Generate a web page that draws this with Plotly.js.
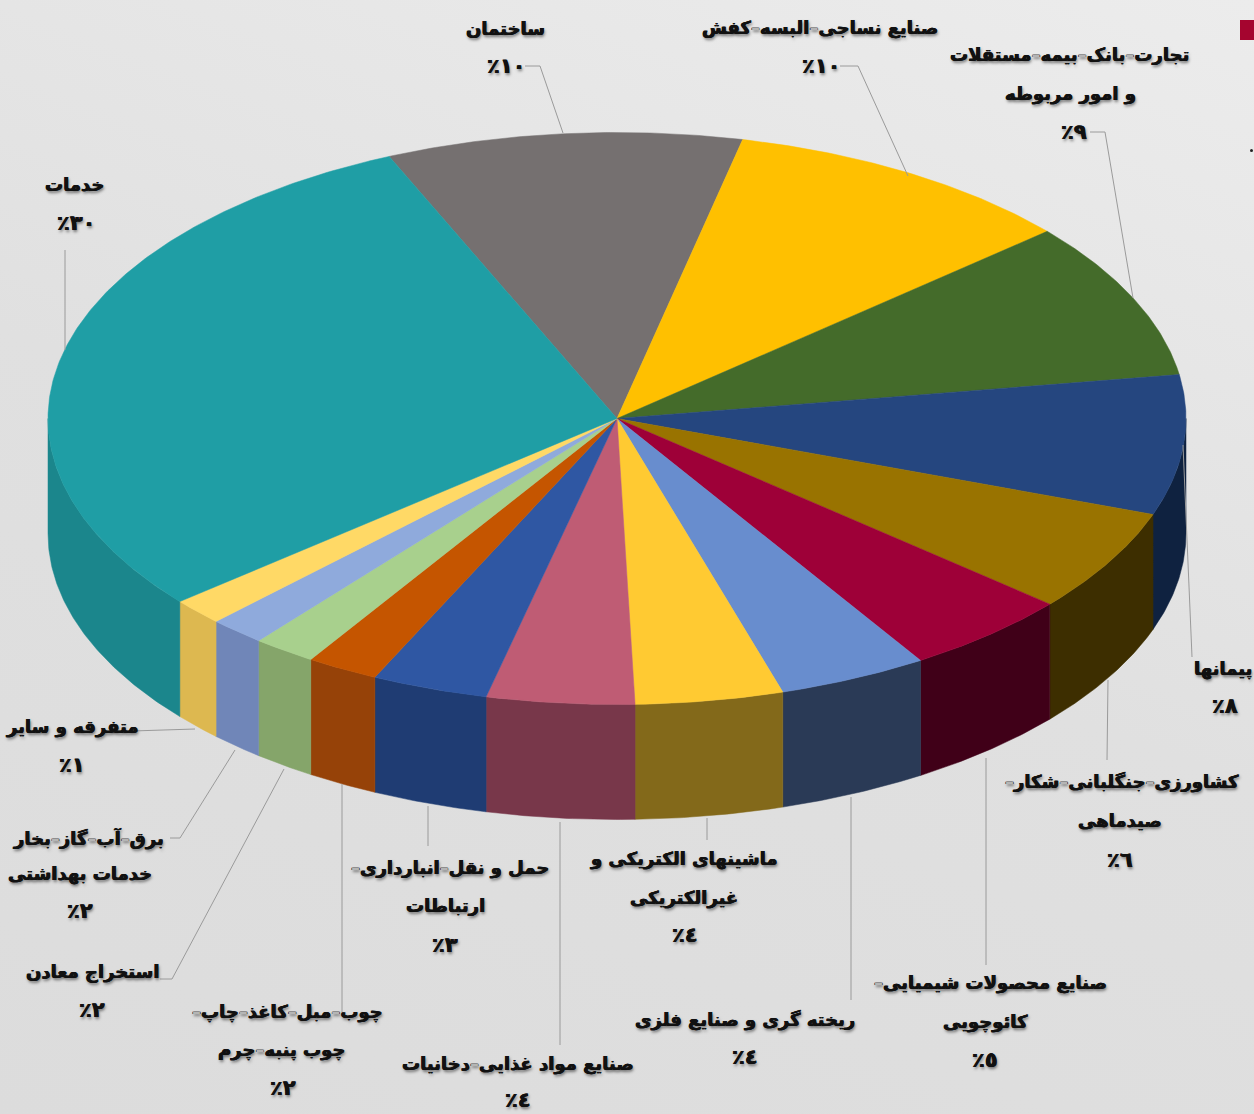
<!DOCTYPE html>
<html><head><meta charset="utf-8">
<script src="https://cdn.plot.ly/plotly-3.0.1.min.js"></script>
<style>html,body{margin:0;padding:0;width:1254px;height:1114px;overflow:hidden;background:linear-gradient(200deg,#ececec 0%,#e0e0e0 50%,#dcdcdc 100%)}</style>
</head><body><div id="chart" style="width:1254px;height:1114px"></div>
<script>
// Sectors clockwise, starting at the boundary between services and construction
const categories = [
  ["ساختمان"],
  ["صنایع نساجی-البسه-کفش"],
  ["تجارت-بانک-بیمه-مستقلات","و امور مربوطه"],
  ["پیمانها"],
  ["-کشاورزی-جنگلبانی-شکار","صیدماهی"],
  ["-صنایع محصولات شیمیایی","کائوچویی"],
  ["ریخته گری و صنایع فلزی"],
  ["ماشینهای الکتریکی و","غیرالکتریکی"],
  ["صنایع مواد غذایی-دخانیات"],
  ["-حمل و نقل-انبارداری","ارتباطات"],
  ["-چوب-مبل-کاغذ-چاپ","چوب پنبه-چرم"],
  ["استخراج معادن"],
  ["برق-آب-گاز-بخار","خدمات بهداشتی"],
  ["متفرقه و سایر"],
  ["خدمات"]
];
const sizes = [10.1,10.1,8.9,7.9,5.8,4.8,4.25,4.2,4.2,3.3,2.05,1.8,1.6,1.5,29.5];
const percents = [10,10,9,8,6,5,4,4,4,3,2,2,2,1,30];
const topColors = ["#757070","#FFC000","#446B2A","#25467F","#997300","#9E0038","#688DCE","#FFCA32","#BF5C74","#2F57A3","#C55500","#A8D08D","#8FAADC","#FFD966","#1F9EA5"];
const sideColors = ["#5e5a5a","#b98c00","#2c4a1c","#0F2240","#3D2E00","#400018","#2A3A56","#83691A","#78374A","#1F3C73","#964208","#85A56A","#7086B8","#DDB850","#1B868C"];
// Label line centres [x,y] per line; last is the percent line
const labelPos = [
  [[505,28],[506,66]],
  [[820,28],[821,66]],
  [[1069,54],[1070,94],[1074,132]],
  [[1223,669],[1225,706]],
  [[1122,782],[1120,820],[1120,860]],
  [[990,983],[985,1022],[985,1060]],
  [[745,1020],[745,1057]],
  [[684,859],[684,898],[685,935]],
  [[518,1064],[518,1100]],
  [[450,868],[445,905],[445,945]],
  [[287,1012],[281,1050],[283,1088]],
  [[92,972],[92,1010]],
  [[88,838],[80,874],[80,911]],
  [[72,727],[72,765]],
  [[74,184],[76,223]]
];
const leaders = [
  [[525,66],[540,66],[563,133]],
  [[840,66],[858,66],[908,176]],
  [[1090,132],[1105,132],[1133,298]],
  [[1183,445],[1192,657]],
  [[1108,680],[1107,760]],
  [[986,758],[986,965]],
  [[851,797],[851,1000]],
  [[707,818],[707,840]],
  [[560,822],[560,1045]],
  [[428,806],[428,846]],
  [[342,784],[342,1012]],
  [[284,769],[172,979],[160,979]],
  [[235,750],[180,838],[170,838]],
  [[132,731],[195,729]],
  [[65,250],[65,350]]
];
const startAngle = -23.6, cx = 617, cy = 418.5, rx = 569, ry = 286, depth = 115;

const pt = (t, d=0) => { const r = t*Math.PI/180; return [cx + rx*Math.sin(r), cy - ry*Math.cos(r) + d]; };
const total = sizes.reduce((a,b)=>a+b,0);
const traces = [];
let a0 = startAngle;
const wedges = sizes.map(s => { const a = a0, b = a0 + s/total*360; a0 = b; return [a,b]; });
const arc = (a,b,d=0) => { const n = Math.max(2,Math.ceil((b-a)*2)); return Array.from({length:n+1},(_,i)=>pt(a+(b-a)*i/n,d)); };
const poly = (pts, col) => traces.push({type:'scatter',mode:'lines',x:pts.map(p=>p[0]),y:pts.map(p=>p[1]),fill:'toself',fillcolor:col,line:{color:col,width:0.5},hoverinfo:'skip',showlegend:false});

wedges.forEach(([a,b],i) => {
  const lo = Math.max(a,90), hi = Math.min(b,270);
  if (hi > lo) {
    const up = arc(lo,hi), dn = arc(lo,hi,depth).reverse();
    poly(up.concat(dn,[up[0]]), sideColors[i]);
  }
});
wedges.forEach(([a,b],i) => {
  poly([[cx,cy]].concat(arc(a,b),[[cx,cy]]), topColors[i]);
});
const lx=[], ly=[];
leaders.forEach(l => { l.forEach(p=>{lx.push(p[0]);ly.push(p[1]);}); lx.push(null); ly.push(null); });
traces.push({type:'scatter',mode:'lines',x:lx,y:ly,line:{color:'#9a9a9a',width:1},hoverinfo:'skip',showlegend:false});

const arDigits = n => String(n).replace(/\d/g,d=>"٠١٢٣٤٥٦٧٨٩"[d]);
const shadow = '0.4px 0 0 #111,-0.4px 0 0 #111,1px 2px 3px rgba(0,0,0,0.5)';
const font = {family:'"DejaVu Sans", sans-serif',size:18,color:'#111',weight:700,shadow};
const pctFont = {...font,size:21};
const dash = t => t.replace(/-/g,"<span style='color:#b5b5b5'>–</span>");
const annotations = [];
categories.forEach((lines,i) => {
  lines.forEach((t,j) => {
    const p = labelPos[i][j];
    annotations.push({x:p[0],y:p[1],xref:'x',yref:'y',text:dash(t),showarrow:false,xanchor:'center',yanchor:'middle',font});
  });
  const p = labelPos[i][lines.length];
  annotations.push({x:p[0],y:p[1],xref:'x',yref:'y',text:"٪"+arDigits(percents[i]),showarrow:false,xanchor:'center',yanchor:'middle',font:pctFont});
});
const hidden = {visible:false,fixedrange:true};
Plotly.newPlot('chart',traces,{
  width:1254,height:1114,margin:{l:0,r:0,t:0,b:0},
  paper_bgcolor:'rgba(0,0,0,0)',plot_bgcolor:'rgba(0,0,0,0)',showlegend:false,
  xaxis:{...hidden,range:[0,1254]},yaxis:{...hidden,range:[1114,0]},
  annotations,
  shapes:[
    {type:'rect',xref:'paper',yref:'paper',x0:1240/1254,x1:1,y0:1-20/1114,y1:1-40/1114,fillcolor:'#A5052F',line:{width:0}},
    {type:'circle',xref:'paper',yref:'paper',x0:1250/1254,x1:1253/1254,y0:1-149/1114,y1:1-152/1114,fillcolor:'#222',line:{width:0}}
  ]
},{displayModeBar:false,staticPlot:true});
</script></body></html>
